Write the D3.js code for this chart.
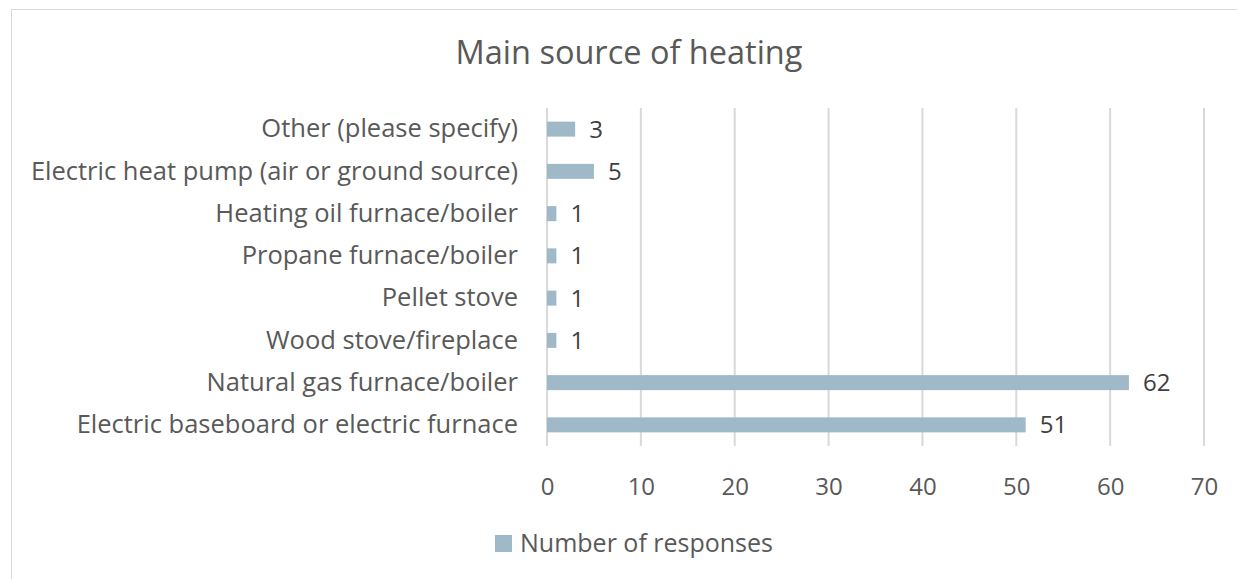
<!DOCTYPE html>
<html>
<head>
<meta charset="utf-8">
<script src="https://cdn.jsdelivr.net/npm/d3@7"></script>
<style>
  body { margin: 0; background: #ffffff; }
  text { font-family: "Open Sans", sans-serif; }
</style>
</head>
<body>
<div id="chart"></div>
<script>
// Chart data
const categories = [
  "Other (please specify)",
  "Electric heat pump (air or ground source)",
  "Heating oil furnace/boiler",
  "Propane furnace/boiler",
  "Pellet stove",
  "Wood stove/fireplace",
  "Natural gas furnace/boiler",
  "Electric baseboard or electric furnace"
];
const responses = [3, 5, 1, 1, 1, 1, 62, 51];
const xTicks = [0, 10, 20, 30, 40, 50, 60, 70];
const seriesName = "Number of responses";
const chartTitle = "Main source of heating";

const width = 1237;
const height = 579;
const margin = { top: 108, right: 33, bottom: 133, left: 547 };
const barColor = "#a0b9c9";
const textColor = "#595959";

const svg = d3.select("#chart")
  .append("svg")
  .attr("width", width)
  .attr("height", height)
  .style("background", "#ffffff");

// Chart border
svg.append("rect")
  .attr("x", 11.5)
  .attr("y", 9.5)
  .attr("width", width)
  .attr("height", height)
  .attr("fill", "none")
  .attr("stroke", "#d9d9d9")
  .attr("stroke-width", 1);

// Scales
const x = d3.scaleLinear()
  .domain([0, 70])
  .range([margin.left, width - margin.right]);

const y = d3.scaleBand()
  .domain(categories)
  .range([margin.top, height - margin.bottom])
  .paddingInner(0.645)
  .paddingOuter(0.3225);

// Grid lines
svg.append("g")
  .selectAll("line")
  .data(xTicks)
  .join("line")
  .attr("x1", d => x(d))
  .attr("x2", d => x(d))
  .attr("y1", margin.top)
  .attr("y2", height - margin.bottom)
  .attr("stroke", "#d9d9d9")
  .attr("stroke-width", 2);

// X axis labels
const xAxis = svg.append("g")
  .attr("transform", `translate(0, ${height - margin.bottom})`)
  .call(d3.axisBottom(x).tickValues(xTicks).tickSize(0).tickPadding(32));
xAxis.select(".domain").remove();
xAxis.selectAll("text")
  .style("font-family", "Open Sans")
  .style("font-size", "24px")
  .attr("fill", textColor);

// Y axis labels
const yAxis = svg.append("g")
  .attr("transform", `translate(${margin.left}, 0)`)
  .call(d3.axisLeft(y).tickSize(0).tickPadding(29));
yAxis.select(".domain").remove();
yAxis.selectAll("text")
  .style("font-family", "Open Sans")
  .style("font-size", "25.5px")
  .attr("fill", textColor);

// Bars
svg.append("g")
  .selectAll("rect")
  .data(categories)
  .join("rect")
  .attr("x", x(0))
  .attr("y", d => y(d))
  .attr("width", (d, i) => x(responses[i]) - x(0))
  .attr("height", y.bandwidth())
  .attr("fill", barColor);

// Value labels
svg.append("g")
  .selectAll("text")
  .data(categories)
  .join("text")
  .attr("x", (d, i) => x(responses[i]) + 14)
  .attr("y", d => y(d) + y.bandwidth() / 2)
  .attr("dy", "0.35em")
  .style("font-size", "24px")
  .attr("fill", "#404040")
  .text((d, i) => responses[i]);

// Title
svg.append("text")
  .attr("x", 629)
  .attr("y", 64)
  .attr("text-anchor", "middle")
  .style("font-size", "32.5px")
  .attr("fill", textColor)
  .text(chartTitle);

// Legend
const legend = svg.append("g")
  .attr("transform", "translate(495, 535)");
legend.append("rect")
  .attr("width", 17)
  .attr("height", 17)
  .attr("fill", barColor);
legend.append("text")
  .attr("x", 25)
  .attr("y", 8.5)
  .attr("dy", "0.35em")
  .style("font-size", "25px")
  .attr("fill", textColor)
  .text(seriesName);
</script>
</body>
</html>
